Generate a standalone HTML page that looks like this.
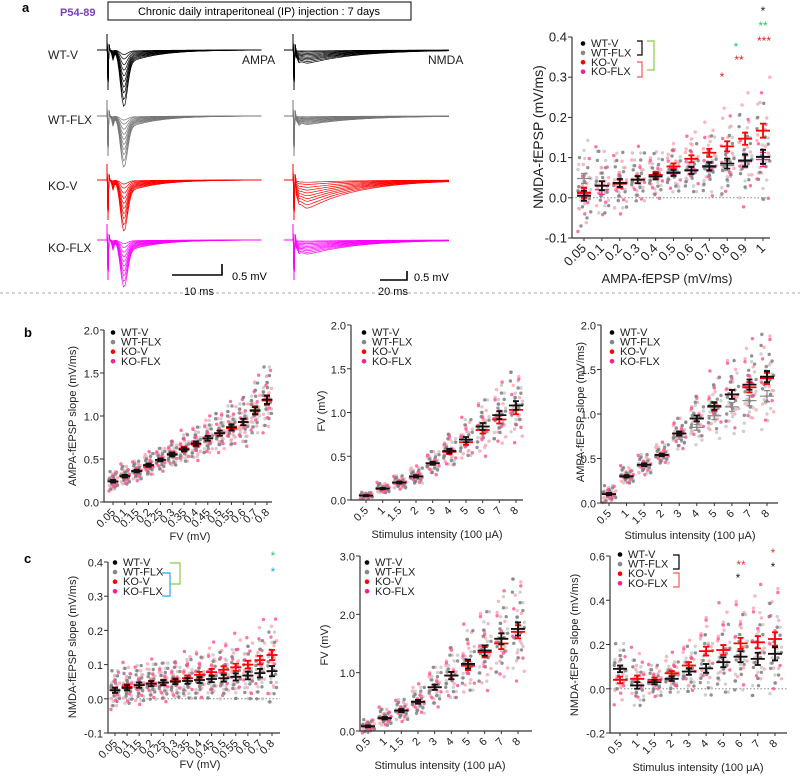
<!DOCTYPE html>
<html><head><meta charset="utf-8"><style>
body{margin:0;background:#fff;}
svg{display:block;font-family:"Liberation Sans",Arial,sans-serif;}
</style></head><body>
<svg id="fig" width="800" height="777" viewBox="0 0 800 777" xmlns="http://www.w3.org/2000/svg">
<g>
<text x="22" y="12" font-size="13" font-weight="bold">a</text>
<text x="60" y="16" font-size="11" font-weight="bold" fill="#7a3fb0">P54-89</text>
<rect x="108" y="2" width="303" height="18" fill="none" stroke="#000" stroke-width="1"/>
<text x="259" y="15" font-size="11" text-anchor="middle">Chronic daily intraperitoneal (IP) injection : 7 days</text>
<text x="48" y="59" font-size="12" fill="#222">WT-V</text>
<text x="48" y="124" font-size="12" fill="#222">WT-FLX</text>
<text x="48" y="190" font-size="12" fill="#222">KO-V</text>
<text x="48" y="252" font-size="12" fill="#222">KO-FLX</text>
<text x="242" y="64" font-size="12" fill="#222">AMPA</text>
<text x="428" y="64" font-size="12" fill="#222">NMDA</text>
<path d="M172 275 H222 V264" fill="none" stroke="#000" stroke-width="1.6"/>
<text x="232" y="280" font-size="11">0.5 mV</text>
<text x="184" y="295" font-size="11">10 ms</text>
<path d="M380 280 H407 V271" fill="none" stroke="#000" stroke-width="1.6"/>
<text x="414" y="281" font-size="11">0.5 mV</text>
<text x="378" y="295" font-size="11">20 ms</text>
</g>
<g id="traces"></g>
<line x1="0" y1="293" x2="800" y2="293" stroke="#aaa" stroke-dasharray="3,3"/>
<text x="24" y="337" font-size="13" font-weight="bold">b</text>
<text x="24" y="563" font-size="13" font-weight="bold">c</text>
<g id="charts"></g>
</svg>
<script>
// ---- data ----
const catsA = ["0.05","0.1","0.2","0.3","0.4","0.5","0.6","0.7","0.8","0.9","1"];
const aWTV = [0.005,0.03,0.037,0.045,0.053,0.062,0.068,0.078,0.085,0.093,0.102];
const aWTF = [0.048,0.03,0.035,0.045,0.055,0.06,0.068,0.075,0.08,0.09,0.1];
const aKOV = [0.013,0.03,0.035,0.045,0.057,0.078,0.097,0.112,0.128,0.147,0.167];
const aKOF = [0.01,0.02,0.035,0.045,0.055,0.065,0.07,0.08,0.085,0.09,0.095];
const aSD = [0.05,0.045,0.04,0.035,0.03,0.03,0.035,0.04,0.05,0.06,0.07];
const ticksA = [-0.1,0,0.1,0.2,0.3,0.4];
const tickLabelsA = ["-0.1","0.0","0.1","0.2","0.3","0.4"];

const catsFV = ["0.05","0.1","0.15","0.2","0.25","0.3","0.35","0.4","0.45","0.5","0.55","0.6","0.7","0.8"];
const b1WTV = [0.24,0.3,0.36,0.43,0.49,0.55,0.61,0.68,0.74,0.8,0.87,0.93,1.06,1.19];
const b1KOV = [0.24,0.3,0.36,0.42,0.49,0.56,0.62,0.67,0.74,0.8,0.86,0.93,1.07,1.18];
const b1SD = [0.06,0.06,0.06,0.07,0.07,0.08,0.09,0.1,0.11,0.12,0.13,0.15,0.17,0.2];
const ticksB = [0,0.5,1,1.5,2];
const tickLabelsB = ["0.0","0.5","1.0","1.5","2.0"];

const catsStim = ["0.5","1","1.5","2","3","4","5","6","7","8"];
const b2WTV = [0.05,0.13,0.2,0.27,0.42,0.56,0.69,0.84,0.97,1.08];
const b2KOV = [0.05,0.13,0.2,0.27,0.42,0.55,0.66,0.8,0.92,1.03];
const b2SD = [0.02,0.03,0.04,0.05,0.07,0.1,0.12,0.16,0.18,0.2];
const b3WTV = [0.1,0.3,0.43,0.54,0.78,0.95,1.09,1.22,1.33,1.42];
const b3KOV = [0.1,0.3,0.43,0.54,0.78,0.95,1.08,1.22,1.3,1.4];
const b3WTF = [0.1,0.3,0.43,0.54,0.74,0.85,0.98,1.08,1.15,1.2];
const b3SD = [0.05,0.05,0.06,0.06,0.09,0.13,0.17,0.2,0.23,0.25];

const c1WTV = [0.025,0.032,0.04,0.044,0.047,0.05,0.052,0.055,0.058,0.06,0.064,0.068,0.075,0.081];
const c1KOV = [0.025,0.035,0.04,0.045,0.048,0.052,0.06,0.07,0.078,0.085,0.092,0.1,0.113,0.128];
const c1SD = [0.03,0.03,0.03,0.03,0.03,0.03,0.033,0.035,0.037,0.04,0.042,0.045,0.05,0.06];
const ticksC1 = [-0.1,0,0.1,0.2,0.3,0.4];
const tickLabelsC1 = ["-0.1","0.0","0.1","0.2","0.3","0.4"];

const c2WTV = [0.08,0.22,0.35,0.5,0.75,0.95,1.15,1.38,1.58,1.75];
const c2KOV = [0.08,0.22,0.35,0.5,0.75,0.95,1.12,1.35,1.5,1.7];
const c2SD = [0.06,0.08,0.1,0.13,0.18,0.25,0.3,0.35,0.38,0.45];
const ticksC2 = [0,1,2,3];
const tickLabelsC2 = ["0.0","1.0","2.0","3.0"];

const c3WTV = [0.09,0.015,0.03,0.045,0.078,0.092,0.12,0.145,0.135,0.158];
const c3KOV = [0.04,0.045,0.04,0.07,0.105,0.17,0.175,0.205,0.21,0.225];
const c3SD = [0.06,0.06,0.04,0.04,0.06,0.08,0.09,0.1,0.11,0.12];
const ticksC3 = [-0.2,0,0.2,0.4,0.6];
const tickLabelsC3 = ["-0.2","0.0","0.2","0.4","0.6"];

// ---- drawing ----
const NS = "http://www.w3.org/2000/svg";
function mk(tag, attrs, parent){
  const e = document.createElementNS(NS, tag);
  for (const k in attrs) e.setAttribute(k, attrs[k]);
  parent.appendChild(e);
  return e;
}
const OFFY = [-1.5,-1.1,-0.8,-0.55,-0.35,-0.15,0.05,0.25,0.45,0.7,1.0,1.4,1.9];
const OFFX = [-0.6,0.4,-0.2,0.7,-0.8,0.1,0.5,-0.4,0.9,-0.1,0.3,-0.7,0.0];
const COL = {wtv:"#111", wtf:"#888", kov:"#f00", kof:"#ff1e8c"};
const DOT = {wtv:"#777", wtf:"#c4c4c4", kov:"#ffa0ab", kof:"#ff4d96"};
const CNT = {wtv:12, wtf:13, kov:10, kof:6};

function chart(cfg){
  const root = document.getElementById('charts');
  const g = mk('g', {}, root);
  
  
  const ys = v => cfg.yBot - (v - cfg.vmin) / (cfg.vmax - cfg.vmin) * (cfg.yBot - cfg.yTop);
  const n = cfg.cats.length;
  const xs = i => cfg.xFirst + i * (cfg.xLast - cfg.xFirst) / (n - 1);
  const sp = (cfg.xLast - cfg.xFirst) / (n - 1);
  if (cfg.vmin < 0){
    const z = mk('line', {x1:cfg.ax, x2:cfg.xEnd, y1:ys(0), y2:ys(0), stroke:"#888", "stroke-dasharray":"1.5,2", "stroke-width":1}, g);
    
    
  }
  const groups = ['wtf','kov','wtv','kof'];
  const series = {wtv:cfg.wtv, kov:cfg.kov, wtf:cfg.wtf || cfg.wtv, kof:cfg.kof || cfg.kov};
  groups.forEach((gk, gi) => {
    for (let i = 0; i < n; i++){
      for (let j = 0; j < CNT[gk]; j++){
        const jj = (j * 2 + gi * 3 + i) % OFFY.length;
        const v = series[gk][i] + OFFY[jj] * cfg.sd[i] * (gk === 'kof' ? 1.25 : 1);
        const c = mk('circle', {cx: xs(i) + OFFX[(j + gi*5 + i) % OFFX.length] * sp * 0.42, cy: ys(v), r: 1.7, fill: DOT[gk], opacity: 0.8}, g);
        
        
      }
    }
  });
  ['wtf','kof','kov','wtv'].forEach(gk => {
    for (let i = 0; i < n; i++){
      const m = series[gk][i], s = cfg.sd[i] * 0.25;
      const x = xs(i), hw = Math.min(7, sp * 0.45);
      const sw = (gk === 'wtv' || gk === 'kov') ? 1.8 : 1.2;
      const p = mk('path', {d:`M${x-hw} ${ys(m)} H${x+hw} M${x} ${ys(m+s)} V${ys(m-s)} M${x-3} ${ys(m+s)} H${x+3} M${x-3} ${ys(m-s)} H${x+3}`, stroke: COL[gk], "stroke-width": sw, fill:"none"}, g);
      
      
    }
  });
  const axes = mk('path', {d:`M${cfg.ax} ${cfg.yTop} V${cfg.yBot} H${cfg.xEnd}`, stroke:"#333", "stroke-width":1.2, fill:"none"}, g);
  
  
  cfg.ticks.forEach((t, k) => {
    const tl = mk('line', {x1:cfg.ax-4, x2:cfg.ax, y1:ys(t), y2:ys(t), stroke:"#333"}, g);
    
    
    const tx = mk('text', {x:cfg.ax-5, y:ys(t)+4.5, "font-size":cfg.fs, "text-anchor":"end", fill:"#222"}, g);
    tx.textContent = cfg.tickLabels[k];
    
    
  });
  for (let i = 0; i < n; i++){
    const tl = mk('line', {x1:xs(i), x2:xs(i), y1:cfg.yBot, y2:cfg.yBot+3, stroke:"#333"}, g);
    
    
    const x = xs(i) + 3, y = cfg.yBot + 11;
    const tx = mk('text', {x:x, y:y, "font-size":cfg.fs, "text-anchor":"end", fill:"#222", transform:`rotate(-45 ${x} ${y})`}, g);
    tx.textContent = cfg.cats[i];
    
    
  }
  const xt = mk('text', {x:cfg.xtX, y:cfg.xtY, "font-size":cfg.fs, "text-anchor":"middle", fill:"#222"}, g);
  xt.textContent = cfg.xTitle;
  
  
  const yt = mk('text', {x:cfg.ytX, y:cfg.ytY, "font-size":cfg.yfs || cfg.fs, "text-anchor":"middle", fill:"#222", transform:`rotate(-90 ${cfg.ytX} ${cfg.ytY})`}, g);
  yt.textContent = cfg.yTitle;
  
  
  const names = ["WT-V","WT-FLX","KO-V","KO-FLX"], lc = ["#000","#888","#f00","#ff1e8c"];
  names.forEach((nm, k) => {
    const y = cfg.legY + k * cfg.legDy;
    const d = mk('circle', {cx:cfg.legX, cy:y-3.5, r:2.3, fill:lc[k]}, g);
    
    
    const t = mk('text', {x:cfg.legX+8, y:y, "font-size":cfg.lfs, fill:"#222"}, g);
    t.textContent = nm;
    
    
  });
  return {g, xs, ys};
}

const muA = "(100 \u03bcA)";
chart({name:"chart-a-nmda-vs-ampa", ax:572, yTop:37, yBot:238, vmin:-0.1, vmax:0.4, ticks:ticksA, tickLabels:tickLabelsA,
  cats:catsA, xFirst:584, xLast:763, xEnd:770, wtv:aWTV, wtf:aWTF, kov:aKOV, kof:aKOF, sd:aSD, fs:13, yfs:14, lfs:11,
  xTitle:"AMPA-fEPSP (mV/ms)", xtX:667, xtY:283, yTitle:"NMDA-fEPSP (mV/ms)", ytX:543, ytY:137, legX:583, legY:47, legDy:9.4});
chart({name:"chart-b-ampa-vs-fv", ax:104, yTop:330, yBot:502, vmin:0, vmax:2, ticks:ticksB, tickLabels:tickLabelsB,
  cats:catsFV, xFirst:113, xLast:267, xEnd:272, wtv:b1WTV, kov:b1KOV, sd:b1SD, fs:11, lfs:11,
  xTitle:"FV (mV)", xtX:190, xtY:540, yTitle:"AMPA-fEPSP slope (mV/ms)", ytX:76, ytY:416, legX:113, legY:336, legDy:9.6});
chart({name:"chart-b-fv-vs-stim", ax:351, yTop:325, yBot:500, vmin:0, vmax:2, ticks:ticksB, tickLabels:tickLabelsB,
  cats:catsStim, xFirst:366, xLast:516, xEnd:523, wtv:b2WTV, kov:b2KOV, sd:b2SD, fs:11, lfs:11,
  xTitle:"Stimulus intensity "+muA, xtX:437, xtY:538, yTitle:"FV (mV)", ytX:325, ytY:411, legX:364, legY:336, legDy:9.6});
chart({name:"chart-b-ampa-vs-stim", ax:601, yTop:325, yBot:503, vmin:0, vmax:2, ticks:ticksB, tickLabels:tickLabelsB,
  cats:catsStim, xFirst:609, xLast:767, xEnd:778, wtv:b3WTV, kov:b3KOV, wtf:b3WTF, sd:b3SD, fs:11, lfs:11,
  xTitle:"Stimulus intensity "+muA, xtX:690, xtY:539, yTitle:"AMPA-fEPSP slope (mV/ms)", ytX:584, ytY:412, legX:612, legY:336, legDy:9.6});
chart({name:"chart-c-nmda-vs-fv", ax:108, yTop:562, yBot:733, vmin:-0.1, vmax:0.4, ticks:ticksC1, tickLabels:tickLabelsC1,
  cats:catsFV, xFirst:115, xLast:272, xEnd:280, wtv:c1WTV, kov:c1KOV, sd:c1SD, fs:11, lfs:11,
  xTitle:"FV (mV)", xtX:200, xtY:768, yTitle:"NMDA-fEPSP slope (mV/ms)", ytX:76, ytY:647, legX:115, legY:566, legDy:9.6});
chart({name:"chart-c-fv-vs-stim", ax:360, yTop:556, yBot:731, vmin:0, vmax:3, ticks:ticksC2, tickLabels:tickLabelsC2,
  cats:catsStim, xFirst:368, xLast:518, xEnd:532, wtv:c2WTV, kov:c2KOV, sd:c2SD, fs:11, lfs:11,
  xTitle:"Stimulus intensity "+muA, xtX:440, xtY:769, yTitle:"FV (mV)", ytX:328, ytY:645, legX:367, legY:566, legDy:9.6});
chart({name:"chart-c-nmda-vs-stim", ax:610, yTop:556, yBot:733, vmin:-0.2, vmax:0.6, ticks:ticksC3, tickLabels:tickLabelsC3,
  cats:catsStim, xFirst:620, xLast:775, xEnd:787, wtv:c3WTV, kov:c3KOV, sd:c3SD, fs:11, lfs:11,
  xTitle:"Stimulus intensity "+muA, xtX:698, xtY:771, yTitle:"NMDA-fEPSP slope (mV/ms)", ytX:578, ytY:645, legX:620, legY:558, legDy:9.6});

const svg = document.getElementById('fig');
function txt(x,y,s,c,fs,name){
  const t = mk('text',{x:x,y:y,"font-size":fs,fill:c,"text-anchor":"middle"},svg);
  t.textContent = s;
  
  
}
function br(d,c,name){
  const p = mk('path',{d:d,stroke:c,fill:"none","stroke-width":1.2},svg);
  
  
}
br("M637 41 H642 V55 H637","#000","bracket-wt");
br("M647 41 H654 V70 H647","#8c4","bracket-v");
br("M637 62 H642 V77 H637","#f55","bracket-ko");
txt(763,15,"*","#222",12,"sig-star"); txt(763,30,"**","#2c6",12,"sig-star");
txt(764,45,"***","#d22",12,"sig-star"); txt(736,51,"*","#2c6",12,"sig-star");
txt(739,64,"**","#d22",12,"sig-star"); txt(722,81,"*","#d22",12,"sig-star");
br("M170 563 H180 V584 H170","#8c4","bracket-c1-green");
br("M162 573 H170 V596 H162","#2ae","bracket-c1-blue");
txt(273,560,"*","#2c6",12,"sig-star"); txt(273,576,"*","#2ae",12,"sig-star");
br("M673 555 H679 V569 H673","#000","bracket-c3-wt");
br("M673 573 H679 V587 H673","#f55","bracket-c3-ko");
txt(741,569,"**","#e33",12,"sig-star"); txt(738,582,"*","#222",12,"sig-star");
txt(773,557,"*","#e33",12,"sig-star"); txt(773,571,"*","#222",12,"sig-star");

// ---- traces (illustrative waveforms) ----
const tg = document.getElementById('traces');
function trace(x0, x1, xs, base, amp, tp, tau, color, fvAmp){
  let d = `M${x0} ${base} H${xs}`;
  d += ` L${xs} ${base-16} L${xs+1} ${base+40} L${xs+2} ${base-6} L${xs+3} ${base}`;
  for (let x = xs+3; x <= x1; x += 1.5){
    const t = x - xs;
    let v;
    if (tau) v = amp * (1 - Math.exp(-t/(tp*0.35))) * Math.exp(-Math.max(0,t-tp)/tau);
    else v = amp * Math.exp(-Math.pow((t-tp)/5,2)) + amp*0.35*(t>tp? Math.exp(-(t-tp)/30) : Math.exp(-Math.pow((t-tp)/5,2)));
    v += fvAmp * Math.exp(-Math.pow((t-6)/1.5,2));
    d += ` L${x.toFixed(1)} ${(base + v).toFixed(1)}`;
  }
  const p = mk('path',{d:d,stroke:color,fill:"none","stroke-width":0.7},tg);
  
  
}
const rows = [[50,42,"#000"],[116,38,"#777"],[180,38,"#f00"],[240,35,"#f0f"]];
const steps = [0.08,0.16,0.26,0.36,0.46,0.56,0.66,0.76,0.88,1.0];
rows.forEach(r => {
  steps.forEach(s => {
    trace(97, 262, 107, r[0], r[1]*s, 17, 0, r[2], 10*s);
    trace(284, 450, 293, r[0], (r[2]==="#f00"?30:r[2]==="#777"?9:r[2]==="#f0f"?15:14)*s, 14, 50, r[2], 3*s);
  });
});
</script>
</body></html>
